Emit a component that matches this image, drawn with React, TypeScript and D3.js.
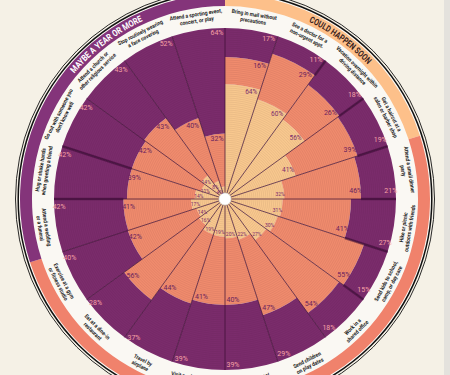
import React from 'react';
import * as d3 from 'd3';

const categories: string[][] = [
  ['Bring in mail without', 'precautions'],
  ['See a doctor for a', 'non-urgent appt.'],
  ['Vacation overnight within', 'driving distance'],
  ['Get a haircut at a', 'salon or barber shop'],
  ['Attend a small dinner', 'party'],
  ['Hike or picnic', 'outdoors with friends'],
  ['Send kids to school,', 'camp, or day care'],
  ['Work in a', 'shared office'],
  ['Send children', 'on play dates'],
  ['Swim in a pool', 'with others'],
  ['Visit a relative or friend', 'at their home'],
  ['Travel by', 'airplane'],
  ['Eat at a dine-in', 'restaurant'],
  ['Exercise at a gym', 'or fitness studio'],
  ['Attend a wedding', 'or a funeral'],
  ['Hug or shake hands', 'when greeting a friend'],
  ['Go out with someone you', "don't know well"],
  ['Attend a church or', 'other religious service'],
  ['Stop routinely wearing', 'a face covering'],
  ['Attend a sporting event,', 'concert, or play'],
];

const soonValues = [64, 60, 56, 41, 32, 31, 30, 27, 22, 20, 19, 19, 16, 14, 17, 14, 11, 14, 8, 4];
const monthsValues = [16, 29, 26, 39, 46, 41, 55, 54, 47, 40, 41, 44, 56, 42, 41, 39, 42, 43, 40, 32];
const yearValues = [17, 11, 18, 19, 21, 27, 15, 18, 29, 39, 39, 37, 28, 40, 42, 42, 42, 43, 52, 64];

const groupNames = ['COULD HAPPEN SOON', '', 'MAYBE A YEAR OR MORE'];
const groupStart = [0, 4, 14];
const groupEnd = [4, 14, 20];
// dividers drawn with a heavier shadow stripe
const shadowDividers = [2, 3, 4, 5, 6, 7, 15, 16];

const W = 450, H = 375;
const cx = 225, cy = 199;
const R0 = 6, R = 171;
const ringOuter = 193, bandOuter = 205;

const layerColors = ['#f8c88e', '#f08b6d', '#7b2c6c'];
const labelColors = ['#7b2c6c', '#6a1f5e', '#f6a2a6'];
const groupColors = ['#fdc08a', '#f0826c', '#84347a'];
const groupTextColors = ['#3b2320', '#ffffff', '#ffffff'];

export default function App() {
  const n = categories.length;
  const step = (2 * Math.PI) / n;
  const rScale = d3.scaleLinear().domain([0, 1]).range([R0, R]);
  const arc = d3.arc<any>();
  const layers = [soonValues, monthsValues, yearValues];

  const segs: any[] = [];
  const labels: any[] = [];
  const purpleStart: number[] = [];
  for (let i = 0; i < n; i++) {
    const total = soonValues[i] + monthsValues[i] + yearValues[i];
    let cum = 0;
    for (let j = 0; j < 3; j++) {
      const v = layers[j][i];
      const r1 = rScale(cum / total);
      if (j === 2) purpleStart.push(r1);
      cum += v;
      const r2 = j === 2 ? R : rScale(cum / total);
      segs.push({ i, j, d: arc({ innerRadius: r1, outerRadius: r2, startAngle: i * step, endAngle: (i + 1) * step }) });
      const small = j === 0 && r2 < 60;
      const fs = small ? 5 : j === 0 ? 6.5 : 7;
      const rl = r2 - (small ? 4 : 5);
      const off = small ? 5.5 : 8;
      const a = (i + 1) * step - off / rl;
      labels.push({ key: `${i}-${j}`, x: cx + rl * Math.sin(a), y: cy - rl * Math.cos(a), t: `${v}%`, fs, c: labelColors[j] });
    }
  }

  const rings: number[] = [];
  for (let r = R0 + 1; r < R; r += 2) rings.push(r);

  const arcPath = (r: number, a0: number, a1: number) => {
    const x0 = cx + r * Math.sin(a0), y0 = cy - r * Math.cos(a0);
    const x1 = cx + r * Math.sin(a1), y1 = cy - r * Math.cos(a1);
    return `M${x0},${y0} A${r},${r} 0 0 1 ${x1},${y1}`;
  };
  const deg = Math.PI / 180;

  return (
    <svg width={W} height={H} style={{ position: 'absolute', left: 0, top: 0, background: '#f5f1e6' }}>
      <rect x={0} y={0} width={W} height={H} fill="#f5f1e6" />
      <rect x={444} y={0} width={6} height={H} fill="#e4e2dd" />
      <circle cx={cx} cy={cy} r={209.5} fill="none" stroke="#111" strokeWidth={0.9} />
      <circle cx={cx} cy={cy} r={206.8} fill="#faf8f3" stroke="#111" strokeWidth={1.5} />
      {groupNames.map((g, k) => (
        <path key={'band' + k} transform={`translate(${cx},${cy})`}
          d={arc({ innerRadius: ringOuter, outerRadius: bandOuter, startAngle: groupStart[k] * step, endAngle: groupEnd[k] * step }) as string}
          fill={groupColors[k]} />
      ))}
      <g transform={`translate(${cx},${cy})`}>
        {segs.map((s) => (
          <path key={`s${s.i}-${s.j}`} d={s.d} fill={layerColors[s.j]} />
        ))}
        {rings.map((r) => (
          <circle key={'r' + r} r={r} fill="none" stroke="#2a0a20" strokeOpacity={0.09} strokeWidth={0.7} />
        ))}
        {d3.range(n).map((i) => (
          <line key={'div' + i} x1={R0 * Math.sin(i * step)} y1={-R0 * Math.cos(i * step)}
            x2={R * Math.sin(i * step)} y2={-R * Math.cos(i * step)}
            stroke="#3a0c32" strokeOpacity={0.7} strokeWidth={1} />
        ))}
        {shadowDividers.map((i) => {
          const a = i * step;
          const r1 = purpleStart[(i - 1 + n) % n];
          return (
            <line key={'sh' + i} x1={r1 * Math.sin(a)} y1={-r1 * Math.cos(a)}
              x2={R * Math.sin(a)} y2={-R * Math.cos(a)}
              stroke="#3a0a34" strokeOpacity={0.55} strokeWidth={2.6} />
          );
        })}
        <circle r={R0} fill="#ffffff" stroke="#d8d2c8" strokeWidth={0.8} />
      </g>
      {labels.map((l) => (
        <text key={l.key} x={l.x} y={l.y} fontSize={l.fs} fill={l.c} textAnchor="middle" dominantBaseline="central"
          fontFamily="Roboto, sans-serif">{l.t}</text>
      ))}
      {categories.map((lines, i) => {
        const m = (i + 0.5) * 360 / n;
        const flip = m > 90 && m < 270;
        const rot = flip ? m + 180 : m;
        const ys = flip ? [180.5, 187] : [-187, -180.5];
        return (
          <g key={'cat' + i} transform={`translate(${cx},${cy}) rotate(${rot})`}>
            {lines.map((t, k) => (
              <text key={k} x={0} y={ys[k]} fontSize={5.6} fontWeight={700} fill="#222" textAnchor="middle"
                dominantBaseline="central" fontFamily="Roboto, sans-serif" transform={`scale(0.88,1)`}>{t}</text>
            ))}
          </g>
        );
      })}
      <defs>
        <path id="bandSoon" d={arcPath(196, 0, 72 * deg)} />
        <path id="bandYear" d={arcPath(196, -68 * deg, -7 * deg)} />
      </defs>
      <text fontSize={9} fontWeight={700} fill={groupTextColors[0]} fontFamily="Roboto, sans-serif">
        <textPath href="#bandSoon" startOffset="50%" textAnchor="middle" textLength={73} lengthAdjust="spacingAndGlyphs">{groupNames[0]}</textPath>
      </text>
      <text fontSize={9} fontWeight={700} fill={groupTextColors[2]} fontFamily="Roboto, sans-serif">
        <textPath href="#bandYear" startOffset="50%" textAnchor="middle" textLength={87} lengthAdjust="spacingAndGlyphs">{groupNames[2]}</textPath>
      </text>
    </svg>
  );
}
